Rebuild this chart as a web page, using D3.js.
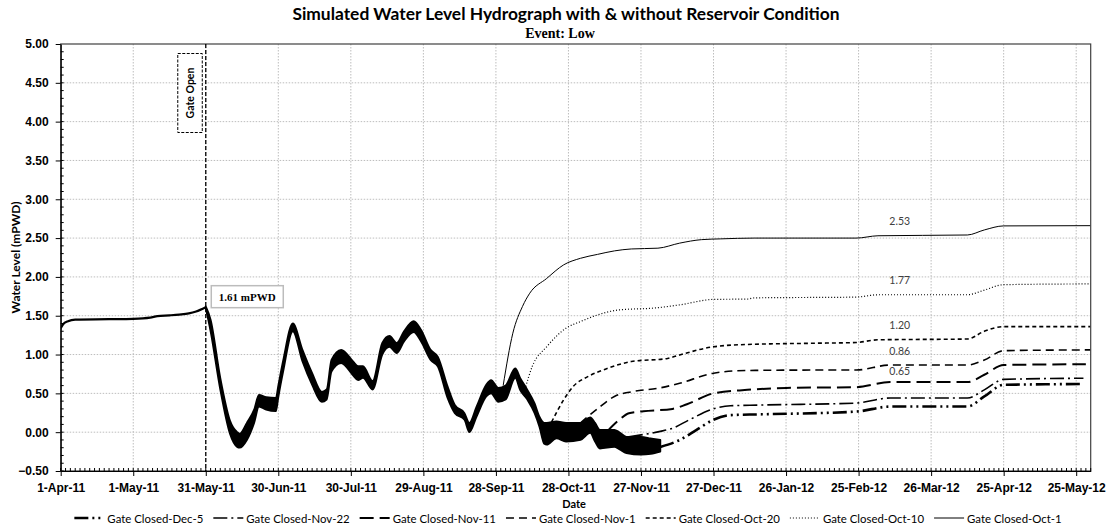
<!DOCTYPE html>
<html>
<head>
<meta charset="utf-8">
<script src="https://cdn.jsdelivr.net/npm/d3@7"></script>
<style>
  body { margin: 0; background: #fff; }
  svg { display: block; font-family: Lato, "Open Sans", sans-serif; }
  .grid line { stroke: #bdbdbd; stroke-width: 1; stroke-dasharray: 1.5,1.5; }
  .axis text { font-size: 12px; font-weight: 700; fill: #000; }
  .axis line { stroke: #000; }
</style>
</head>
<body>
<div id="chart"></div>
<script>
// ---- data ----
const xTickLabels = ["1-Apr-11", "1-May-11", "31-May-11", "30-Jun-11", "30-Jul-11", "29-Aug-11", "28-Sep-11",
  "28-Oct-11", "27-Nov-11", "27-Dec-11", "26-Jan-12", "25-Feb-12", "26-Mar-12", "25-Apr-12", "25-May-12"];
const yTicks = [-0.5, 0, 0.5, 1, 1.5, 2, 2.5, 3, 3.5, 4, 4.5, 5];

const seriesNames = ["Gate Closed-Dec-5", "Gate Closed-Nov-22", "Gate Closed-Nov-11", "Gate Closed-Nov-1",
  "Gate Closed-Oct-20", "Gate Closed-Oct-10", "Gate Closed-Oct-1"];

// common level before the gate opens
const preGateDates = ["2011-04-01", "2011-04-02", "2011-04-04", "2011-04-07", "2011-04-21", "2011-05-01", "2011-05-08",
  "2011-05-11", "2011-05-16", "2011-05-20", "2011-05-24", "2011-05-27", "2011-05-31"];
const preGateLevel = [1.34, 1.39, 1.43, 1.45, 1.455, 1.46, 1.475, 1.495, 1.505, 1.515, 1.53, 1.555, 1.61];

// tidal band while the gate is open (upper / lower envelope)
const bandDates = ["2011-05-31", "2011-06-02", "2011-06-06", "2011-06-10", "2011-06-13", "2011-06-14", "2011-06-17",
  "2011-06-20", "2011-06-22", "2011-06-25", "2011-06-29", "2011-06-30", "2011-07-02", "2011-07-06", "2011-07-10",
  "2011-07-14", "2011-07-18", "2011-07-20", "2011-07-22", "2011-07-26", "2011-07-31", "2011-08-02", "2011-08-04",
  "2011-08-08", "2011-08-12", "2011-08-15", "2011-08-18", "2011-08-21", "2011-08-25", "2011-08-28", "2011-09-01",
  "2011-09-04", "2011-09-08", "2011-09-11", "2011-09-15", "2011-09-17", "2011-09-20", "2011-09-24", "2011-09-26",
  "2011-09-29", "2011-10-02", "2011-10-06", "2011-10-08", "2011-10-11", "2011-10-14", "2011-10-16", "2011-10-18",
  "2011-10-19", "2011-10-23", "2011-10-27", "2011-11-02", "2011-11-06", "2011-11-08", "2011-11-10", "2011-11-16",
  "2011-11-18", "2011-11-21", "2011-11-27", "2011-12-01", "2011-12-05"];
const bandUpper = [1.62, 1.45, 0.70, 0.15, 0.00, -0.02, 0.12, 0.29, 0.48, 0.45,
  0.44, 0.60, 0.92, 1.40, 1.06, 0.76, 0.52, 0.55, 0.93, 1.06,
  0.91, 0.85, 0.85, 0.66, 1.15, 1.24, 1.15, 1.30, 1.43, 1.32,
  1.06, 0.97, 0.59, 0.35, 0.245, 0.12, 0.33, 0.61, 0.67, 0.57,
  0.60, 0.82, 0.70, 0.545, 0.37, 0.20, 0.12, 0.12, 0.14, 0.12,
  0.12, 0.19, 0.12, 0.03, 0.03, 0.00, -0.06, -0.06, -0.08, -0.10];
const bandLower = [1.60, 1.30, 0.55, -0.02, -0.19, -0.20, -0.10, 0.12, 0.33, 0.29,
  0.27, 0.45, 0.78, 1.30, 0.91, 0.61, 0.39, 0.42, 0.78, 0.89,
  0.73, 0.67, 0.70, 0.55, 1.00, 1.10, 1.02, 1.17, 1.29, 1.17,
  0.93, 0.845, 0.44, 0.245, 0.16, 0.00, 0.20, 0.46, 0.50, 0.39,
  0.42, 0.70, 0.545, 0.42, 0.245, 0.07, -0.15, -0.16, -0.08, -0.12,
  -0.10, -0.01, -0.12, -0.21, -0.19, -0.22, -0.27, -0.29, -0.28, -0.25];

// levels after each gate closure
const closedOct1Dates = ["2011-10-01", "2011-10-05", "2011-10-09", "2011-10-12", "2011-10-19", "2011-10-26", "2011-11-02",
  "2011-11-09", "2011-11-16", "2011-11-23", "2011-12-04", "2011-12-13", "2011-12-22", "2011-12-30", "2012-01-13",
  "2012-02-24", "2012-03-04", "2012-04-10", "2012-04-17", "2012-04-25", "2012-05-31"];
const closedOct1Level = [0.60, 1.275, 1.62, 1.79, 1.98, 2.155, 2.24, 2.29, 2.335, 2.36, 2.37, 2.435, 2.48, 2.49, 2.50,
  2.50, 2.53, 2.54, 2.605, 2.657, 2.66];

const closedOct10Dates = ["2011-10-10", "2011-10-13", "2011-10-19", "2011-10-27", "2011-11-02", "2011-11-09", "2011-11-18",
  "2011-12-03", "2011-12-13", "2011-12-27", "2012-01-10", "2012-01-13", "2012-02-24", "2012-03-04", "2012-04-10",
  "2012-04-17", "2012-04-25", "2012-05-31"];
const closedOct10Level = [0.55, 0.845, 1.10, 1.34, 1.425, 1.51, 1.575, 1.60, 1.64, 1.71, 1.715, 1.73, 1.74, 1.77, 1.77,
  1.83, 1.90, 1.91];

const closedOct20Dates = ["2011-10-21", "2011-10-26", "2011-10-30", "2011-11-05", "2011-11-13", "2011-11-23", "2011-12-08",
  "2011-12-13", "2011-12-27", "2012-01-10", "2012-02-05", "2012-02-24", "2012-03-04", "2012-04-10", "2012-04-17",
  "2012-04-25", "2012-05-31"];
const closedOct20Level = [0.13, 0.415, 0.59, 0.715, 0.82, 0.91, 0.95, 0.995, 1.10, 1.13, 1.145, 1.155, 1.19, 1.20, 1.30,
  1.36, 1.36];

const closedNov1Dates = ["2011-11-02", "2011-11-05", "2011-11-09", "2011-11-16", "2011-11-23", "2011-12-04", "2011-12-13",
  "2011-12-27", "2012-01-10", "2012-02-05", "2012-02-24", "2012-03-09", "2012-04-10", "2012-04-17", "2012-04-25",
  "2012-05-31"];
const closedNov1Level = [0.12, 0.20, 0.30, 0.46, 0.52, 0.565, 0.63, 0.76, 0.795, 0.80, 0.80, 0.865, 0.865, 0.93, 1.05, 1.06];

const closedNov11Dates = ["2011-11-13", "2011-11-18", "2011-11-22", "2011-11-28", "2011-12-10", "2011-12-16", "2011-12-27",
  "2012-01-10", "2012-01-26", "2012-02-24", "2012-03-09", "2012-04-10", "2012-04-17", "2012-04-25", "2012-05-29"];
const closedNov11Level = [0.01, 0.16, 0.245, 0.27, 0.30, 0.36, 0.50, 0.545, 0.57, 0.58, 0.645, 0.645, 0.74, 0.865, 0.875];

const closedNov22Dates = ["2011-11-22", "2011-11-28", "2011-12-05", "2011-12-10", "2011-12-17", "2011-12-27", "2012-01-03",
  "2012-01-16", "2012-02-24", "2012-03-09", "2012-04-10", "2012-04-17", "2012-04-25", "2012-05-28"];
const closedNov22Level = [-0.06, -0.03, 0.01, 0.05, 0.16, 0.30, 0.34, 0.35, 0.375, 0.44, 0.44, 0.545, 0.68, 0.695];

const closedDec5Dates = ["2011-12-05", "2011-12-13", "2011-12-20", "2011-12-27", "2012-01-03", "2012-01-16", "2012-02-24",
  "2012-03-09", "2012-04-10", "2012-04-17", "2012-04-25", "2012-05-28"];
const closedDec5Level = [-0.19, -0.10, 0.03, 0.16, 0.22, 0.23, 0.265, 0.33, 0.33, 0.46, 0.61, 0.62];

// value labels near the curves
const labelTexts = ["2.53", "1.77", "1.20", "0.86", "0.65"];
const labelLevels = [2.72, 1.96, 1.38, 1.045, 0.79];
const labelDate = "2012-03-13";
const gateOpenDate = "2011-05-31";
const gateOpenLevel = 1.61;

// ---- chart ----
const width = 1108, height = 527;
const margin = {top: 44, right: 17.3, bottom: 56, left: 60.7};
const parseDate = d3.utcParse("%Y-%m-%d");
const parseTick = d3.utcParse("%d-%b-%y");

const x = d3.scaleUtc()
    .domain([parseDate("2011-04-01"), parseDate("2012-05-31")])
    .range([margin.left, width - margin.right]);
const y = d3.scaleLinear()
    .domain([-0.5, 5])
    .range([height - margin.bottom, margin.top]);

const xTicks = xTickLabels.map(parseTick);

const svg = d3.select("#chart")
    .append("svg")
    .attr("width", width)
    .attr("height", height);

svg.append("defs").append("clipPath")
    .attr("id", "plot-clip")
    .append("rect")
    .attr("x", margin.left)
    .attr("y", margin.top)
    .attr("width", width - margin.left - margin.right)
    .attr("height", height - margin.top - margin.bottom);

// grid
const grid = svg.append("g").attr("class", "grid");
grid.selectAll("line.v")
    .data(xTicks.slice(1))
    .enter().append("line")
    .attr("x1", d => x(d)).attr("x2", d => x(d))
    .attr("y1", margin.top).attr("y2", height - margin.bottom);
grid.selectAll("line.h")
    .data(yTicks.slice(1, -1))
    .enter().append("line")
    .attr("x1", margin.left).attr("x2", width - margin.right)
    .attr("y1", d => y(d)).attr("y2", d => y(d));

const plot = svg.append("g").attr("clip-path", "url(#plot-clip)");

// tidal band
const band = bandDates.map((d, i) => ({date: parseDate(d), hi: bandUpper[i], lo: bandLower[i]}));
plot.append("path")
    .datum(band)
    .attr("fill", "#000")
    .attr("stroke", "#000")
    .attr("stroke-width", 1.8)
    .attr("stroke-linejoin", "round")
    .attr("d", d3.area()
        .x(d => x(d.date))
        .y0(d => y(d.lo))
        .y1(d => y(d.hi))
        .curve(d3.curveMonotoneX));

const line = d3.line()
    .x(d => x(d.date))
    .y(d => y(d.value))
    .curve(d3.curveMonotoneX);

const pre = preGateDates.map((d, i) => ({date: parseDate(d), value: preGateLevel[i]}));
plot.append("path")
    .datum(pre)
    .attr("fill", "none")
    .attr("stroke", "#000")
    .attr("stroke-width", 2.2)
    .attr("d", line);

const series = [
    {dates: closedDec5Dates, values: closedDec5Level, width: 2.6, dash: "14,4,2,4,2,4"},
    {dates: closedNov22Dates, values: closedNov22Level, width: 1.6, dash: "14,4,2,4"},
    {dates: closedNov11Dates, values: closedNov11Level, width: 2, dash: "14,6"},
    {dates: closedNov1Dates, values: closedNov1Level, width: 1.6, dash: "8,5"},
    {dates: closedOct20Dates, values: closedOct20Level, width: 1.6, dash: "4,3"},
    {dates: closedOct10Dates, values: closedOct10Level, width: 1.2, dash: "1,2"},
    {dates: closedOct1Dates, values: closedOct1Level, width: 1, dash: null}
];

series.forEach(s => {
    const pts = s.dates.map((d, i) => ({date: parseDate(d), value: s.values[i]}));
    plot.append("path")
        .datum(pts)
        .attr("fill", "none")
        .attr("stroke", "#000")
        .attr("stroke-width", s.width)
        .attr("stroke-dasharray", s.dash)
        .attr("d", line);
});

// frame
svg.append("rect")
    .attr("x", margin.left)
    .attr("y", margin.top)
    .attr("width", width - margin.left - margin.right)
    .attr("height", height - margin.top - margin.bottom)
    .attr("fill", "none")
    .attr("stroke", "#404040")
    .attr("stroke-width", 1.2);

// x axis
const xAxis = svg.append("g")
    .attr("class", "axis")
    .attr("transform", `translate(0,${height - margin.bottom})`)
    .call(d3.axisBottom(x)
        .tickValues(xTicks)
        .tickFormat((d, i) => xTickLabels[i])
        .tickSizeInner(5)
        .tickSizeOuter(0)
        .tickPadding(7));
xAxis.select(".domain").attr("stroke", "#000").attr("stroke-width", 1.2);

const minorX = d3.range(0, 427, 2).map(i => d3.utcDay.offset(x.domain()[0], i));
svg.append("g")
    .selectAll("line")
    .data(minorX)
    .enter().append("line")
    .attr("x1", d => x(d)).attr("x2", d => x(d))
    .attr("y1", height - margin.bottom).attr("y2", height - margin.bottom - 3)
    .attr("stroke", "#000");

// y axis
const yAxis = svg.append("g")
    .attr("class", "axis")
    .attr("transform", `translate(${margin.left},0)`)
    .call(d3.axisLeft(y)
        .tickValues(yTicks)
        .tickFormat(d3.format(".2f"))
        .tickSizeInner(5)
        .tickSizeOuter(0)
        .tickPadding(7));
yAxis.select(".domain").attr("stroke", "#000").attr("stroke-width", 1.2);

const minorY = d3.range(-5, 50).map(i => i / 10);
svg.append("g")
    .selectAll("line")
    .data(minorY)
    .enter().append("line")
    .attr("x1", margin.left).attr("x2", margin.left + 3)
    .attr("y1", d => y(d)).attr("y2", d => y(d))
    .attr("stroke", "#000");

// titles
svg.append("text")
    .attr("x", 566).attr("y", 20)
    .attr("text-anchor", "middle")
    .attr("font-size", 17.4).attr("font-weight", 700)
    .text("Simulated Water Level Hydrograph with & without Reservoir Condition");
svg.append("text")
    .attr("x", 560).attr("y", 38)
    .attr("text-anchor", "middle")
    .attr("font-family", "'Liberation Serif', 'DejaVu Serif', serif")
    .attr("font-size", 14).attr("font-weight", 700)
    .text("Event: Low");
svg.append("text")
    .attr("transform", `translate(15.5,${(margin.top + height - margin.bottom) / 2}) rotate(-90)`)
    .attr("text-anchor", "middle")
    .attr("dominant-baseline", "central")
    .attr("font-size", 12).attr("font-weight", 700)
    .text("Water Level (mPWD)");
svg.append("text")
    .attr("x", 574).attr("y", 503.5)
    .attr("text-anchor", "middle")
    .attr("dominant-baseline", "central")
    .attr("font-size", 11).attr("font-weight", 700)
    .text("Date");

// gate open annotation
const xGate = x(parseDate(gateOpenDate));
svg.append("line")
    .attr("x1", xGate).attr("x2", xGate)
    .attr("y1", margin.top).attr("y2", height - margin.bottom)
    .attr("stroke", "#000")
    .attr("stroke-width", 1.3)
    .attr("stroke-dasharray", "4,2");
svg.append("rect")
    .attr("x", xGate - 28).attr("y", margin.top + 9.5)
    .attr("width", 24.5).attr("height", 79)
    .attr("fill", "#fff")
    .attr("stroke", "#000")
    .attr("stroke-dasharray", "3,1.5");
svg.append("text")
    .attr("transform", `translate(${xGate - 15.5},${margin.top + 49}) rotate(-90)`)
    .attr("text-anchor", "middle")
    .attr("dominant-baseline", "central")
    .attr("font-size", 10.5).attr("font-weight", 700)
    .text("Gate Open");

const yGate = y(gateOpenLevel);
svg.append("rect")
    .attr("x", xGate + 5.5).attr("y", yGate - 21.5)
    .attr("width", 72).attr("height", 22)
    .attr("fill", "#fff")
    .attr("stroke", "#bcbcbc")
    .attr("stroke-width", 1.5);
svg.append("text")
    .attr("x", xGate + 41.5).attr("y", yGate - 10.5)
    .attr("text-anchor", "middle")
    .attr("dominant-baseline", "central")
    .attr("font-family", "'Liberation Serif', 'DejaVu Serif', serif")
    .attr("font-size", 11).attr("font-weight", 700)
    .text(gateOpenLevel.toFixed(2) + " mPWD");

// value labels
svg.append("g")
    .selectAll("text")
    .data(labelTexts)
    .enter().append("text")
    .attr("x", x(parseDate(labelDate)))
    .attr("y", (d, i) => y(labelLevels[i]))
    .attr("text-anchor", "middle")
    .attr("dominant-baseline", "central")
    .attr("font-size", 10.5)
    .attr("fill", "#404040")
    .text(d => d);

// legend
const legendY = 518;
const legend = svg.append("g");
let cursor = 0;
const items = legend.selectAll("g")
    .data(seriesNames)
    .enter().append("g");
items.append("line")
    .attr("x1", 0).attr("x2", 30)
    .attr("stroke", "#000")
    .attr("stroke-width", (d, i) => series[i].width)
    .attr("stroke-dasharray", (d, i) => series[i].dash);
items.append("text")
    .attr("x", 33)
    .attr("dominant-baseline", "central")
    .attr("font-size", 11.4)
    .text(d => d);
items.each(function() {
    const w = d3.select(this).select("text").node().getComputedTextLength() + 33;
    d3.select(this).attr("transform", `translate(${cursor},0)`);
    cursor += w + 10;
});
legend.attr("transform", `translate(${568 - (cursor - 10) / 2},${legendY})`);
</script>
</body>
</html>
